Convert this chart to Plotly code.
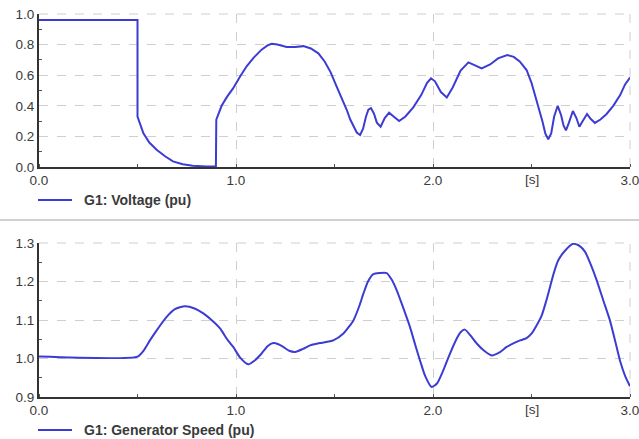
import plotly.graph_objects as go

# Voltage (top panel)
t_volt = [0, 0.5, 0.5, 0.53, 0.56, 0.597, 0.64, 0.68, 0.73, 0.78, 0.85, 0.898, 0.9, 0.927, 0.955,
          0.986, 1.02, 1.054, 1.09, 1.13, 1.16, 1.181, 1.21, 1.257, 1.3, 1.342, 1.38, 1.418, 1.45,
          1.48, 1.511, 1.54, 1.562, 1.58, 1.596, 1.613, 1.63, 1.645, 1.66, 1.672, 1.685, 1.70,
          1.715, 1.734, 1.755, 1.777, 1.80, 1.828, 1.86, 1.90, 1.94, 1.97, 1.99, 2.01, 2.04, 2.07,
          2.10, 2.14, 2.18, 2.21, 2.247, 2.29, 2.33, 2.377, 2.41, 2.44, 2.475, 2.50, 2.53, 2.555,
          2.57, 2.585, 2.60, 2.615, 2.633, 2.65, 2.663, 2.675, 2.69, 2.71, 2.728, 2.743, 2.76,
          2.782, 2.80, 2.822, 2.85, 2.88, 2.915, 2.95, 2.975, 3.0]
v_volt = [0.96, 0.96, 0.33, 0.22, 0.16, 0.113, 0.07, 0.037, 0.018, 0.008, 0.004, 0.004, 0.31, 0.40,
          0.46, 0.515, 0.59, 0.658, 0.715, 0.767, 0.795, 0.805, 0.80, 0.785, 0.785, 0.79, 0.775,
          0.743, 0.69, 0.62, 0.525, 0.44, 0.374, 0.31, 0.265, 0.225, 0.209, 0.25, 0.33, 0.375,
          0.385, 0.35, 0.29, 0.263, 0.32, 0.355, 0.33, 0.30, 0.33, 0.39, 0.47, 0.55, 0.58, 0.56,
          0.49, 0.455, 0.52, 0.63, 0.684, 0.665, 0.645, 0.67, 0.71, 0.732, 0.72, 0.69, 0.634, 0.55,
          0.42, 0.30, 0.22, 0.181, 0.22, 0.33, 0.40, 0.34, 0.27, 0.24, 0.29, 0.366, 0.32, 0.263,
          0.30, 0.346, 0.315, 0.288, 0.31, 0.345, 0.40, 0.47, 0.54, 0.585]

# Generator speed (bottom panel)
t_speed = [0, 0.5, 0.53, 0.563, 0.60, 0.648, 0.69, 0.741, 0.79, 0.834, 0.88, 0.919, 0.955, 0.986,
           1.02, 1.062, 1.095, 1.13, 1.16, 1.19, 1.215, 1.24, 1.27, 1.3, 1.34, 1.376, 1.426,
           1.494, 1.545, 1.596, 1.625, 1.647, 1.67, 1.697, 1.73, 1.765, 1.79, 1.816, 1.85, 1.883,
           1.91, 1.934, 1.96, 1.993, 2.02, 2.052, 2.08, 2.112, 2.14, 2.162, 2.19, 2.222, 2.26,
           2.298, 2.335, 2.374, 2.41, 2.442, 2.475, 2.501, 2.525, 2.552, 2.575, 2.594, 2.615,
           2.636, 2.67, 2.712, 2.745, 2.772, 2.80, 2.831, 2.865, 2.898, 2.925, 2.949, 2.975, 3.0]
v_speed = [1.005, 1.005, 1.02, 1.047, 1.075, 1.108, 1.128, 1.136, 1.13, 1.117, 1.098, 1.078, 1.05,
           1.03, 1.003, 0.985, 0.995, 1.013, 1.032, 1.04, 1.037, 1.03, 1.02, 1.017, 1.025, 1.034,
           1.04, 1.047, 1.065, 1.099, 1.135, 1.169, 1.2, 1.219, 1.222, 1.222, 1.205, 1.177, 1.13,
           1.082, 1.035, 0.995, 0.955, 0.926, 0.935, 0.969, 1.005, 1.043, 1.068, 1.075, 1.06,
           1.039, 1.02, 1.008, 1.015, 1.03, 1.04, 1.047, 1.053, 1.065, 1.085, 1.112, 1.15, 1.186,
           1.225, 1.255, 1.28, 1.298, 1.292, 1.277, 1.245, 1.203, 1.15, 1.099, 1.045, 0.995,
           0.955, 0.928]

x_tickvals = [0, 1, 2, 3]
x_ticktext = ["0.0", "1.0", "2.0", "3.0"]
x_unit_label = "[s]"
x_unit_pos = 2.5
legend_names = ["G1: Voltage (pu)", "G1: Generator Speed (pu)"]

LINE = "#3c3cd4"
GRID = "#cfcfcf"
FONT = "Liberation Sans, Arial, sans-serif"
TXT = "#3a3a3a"

W, H = 639, 439
ML, MR, MT, MB = 39, 9, 14, 42
PW, PH = W - ML - MR, H - MT - MB


def px_x(px):
    return (px - ML) / PW


def px_y(py):
    return (H - MB - py) / PH


fig = go.Figure()
fig.add_trace(go.Scatter(x=t_volt, y=v_volt, mode="lines", name=legend_names[0],
                         line=dict(color=LINE, width=2), xaxis="x", yaxis="y"))
fig.add_trace(go.Scatter(x=t_speed, y=v_speed, mode="lines", name=legend_names[1],
                         line=dict(color=LINE, width=2, shape="spline", smoothing=0.6),
                         xaxis="x2", yaxis="y2"))

common_x = dict(range=[0, 3.0], tickvals=x_tickvals, ticktext=x_ticktext, ticks="",
                showgrid=True, gridcolor=GRID, griddash="dash", gridwidth=1,
                showline=True, linecolor="#333333", linewidth=2, zeroline=False,
                automargin=False, ticklabeloverflow="allow",
                tickfont=dict(size=13.5, color=TXT, family=FONT),
                minor=dict(dtick=0.5, ticks="inside", ticklen=3, tickcolor="#555", showgrid=False))
common_y = dict(showgrid=True, gridcolor=GRID, griddash="dash", gridwidth=1,
                showline=True, linecolor="#333333", linewidth=2, zeroline=False, ticks="",
                automargin=False, ticklabeloverflow="allow",
                tickformat=".1f", tickfont=dict(size=13.5, color=TXT, family=FONT))

fig.update_layout(
    width=W, height=H,
    margin=dict(l=ML, r=MR, t=MT, b=MB),
    paper_bgcolor="white", plot_bgcolor="white",
    font=dict(family=FONT, color=TXT),
    showlegend=False,
    xaxis=dict(domain=[0, 1], anchor="y", **common_x),
    yaxis=dict(domain=[px_y(167), 1], anchor="x", range=[0, 1.0], dtick=0.2,
               minor=dict(dtick=0.1, ticks="inside", ticklen=3, tickcolor="#555", showgrid=False),
               **common_y),
    xaxis2=dict(domain=[0, 1], anchor="y2", **common_x),
    yaxis2=dict(domain=[0, px_y(243)], anchor="x2", range=[0.9, 1.3], dtick=0.1,
                minor=dict(dtick=0.05, ticks="inside", ticklen=3, tickcolor="#555", showgrid=False),
                **common_y),
)

# dashed grid lines along the top and right edges of both panels
for xr, yr in [("x domain", "y domain"), ("x2 domain", "y2 domain")]:
    fig.add_shape(type="line", xref=xr, yref=yr, x0=1, x1=1, y0=0, y1=1, layer="below",
                  line=dict(color=GRID, width=1, dash="dash"))
    fig.add_shape(type="line", xref=xr, yref=yr, x0=0, x1=1, y0=1, y1=1, layer="below",
                  line=dict(color=GRID, width=1, dash="dash"))

# "[s]" unit label in place of the 2.5 tick label
for xref, yref in [("x", "y domain"), ("x2", "y2 domain")]:
    fig.add_annotation(x=x_unit_pos, y=0, xref=xref, yref=yref, text=x_unit_label,
                       showarrow=False, yanchor="top", yshift=-3,
                       font=dict(size=13.5, color=TXT, family=FONT))

# legends below each panel (sample line + bold label)
for name, ly in zip(legend_names, [200, 430]):
    fig.add_shape(type="line", xref="paper", yref="paper",
                  x0=px_x(38), x1=px_x(72), y0=px_y(ly), y1=px_y(ly),
                  line=dict(color=LINE, width=2))
    fig.add_annotation(x=px_x(82), y=px_y(ly), xref="paper", yref="paper",
                       text="<b>" + name + "</b>", showarrow=False,
                       xanchor="left", yanchor="middle",
                       font=dict(size=14, color=TXT, family=FONT))

# separator band between the two panels
fig.add_shape(type="line", xref="paper", yref="paper", x0=px_x(0), x1=px_x(W),
              y0=px_y(220), y1=px_y(220), line=dict(color="#d0d0d0", width=2))

fig.write_html("out.html", post_script="document.body.style.margin='0';",
               config={"displayModeBar": False})
